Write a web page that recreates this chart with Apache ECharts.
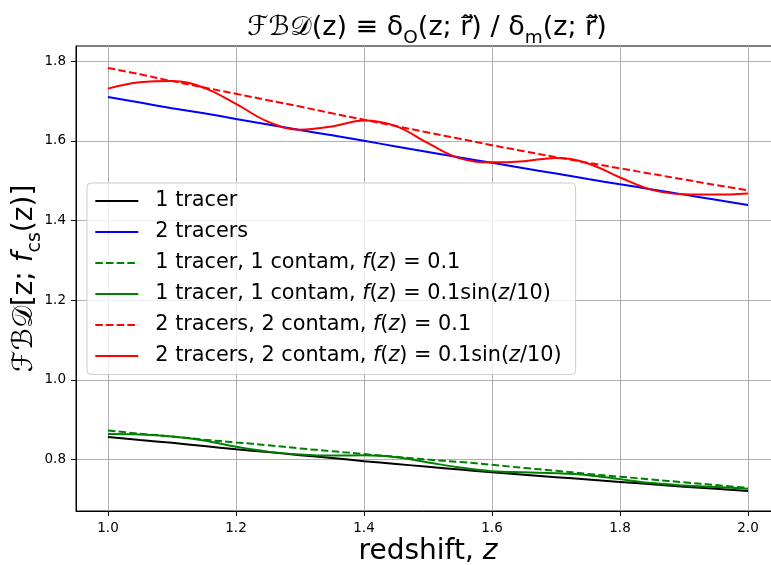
<!DOCTYPE html>
<html>
<head>
<meta charset="utf-8">
<script src="https://cdn.jsdelivr.net/npm/echarts@6/dist/echarts.min.js"></script>
<style>
  html, body { margin: 0; padding: 0; background: #fff; }
  #main { width: 771px; height: 565px; }
</style>
</head>
<body>
<div id="main"></div>
<script>
// redshift grid (x) and tick values
const redshift = [1.00, 1.05, 1.10, 1.15, 1.20, 1.25, 1.30, 1.35, 1.40, 1.45, 1.50,
                  1.55, 1.60, 1.65, 1.70, 1.75, 1.80, 1.85, 1.90, 1.95, 2.00];
const xTicks = [1.0, 1.2, 1.4, 1.6, 1.8, 2.0];
const yTicks = [0.8, 1.0, 1.2, 1.4, 1.6, 1.8];

// values
const oneTracer = [0.857, 0.849, 0.842, 0.834, 0.826, 0.819, 0.811, 0.804, 0.796, 0.789, 0.782,
                   0.775, 0.768, 0.762, 0.756, 0.750, 0.744, 0.738, 0.732, 0.727, 0.721];
const twoTracers = [1.710, 1.696, 1.682, 1.669, 1.655, 1.641, 1.627, 1.614, 1.600, 1.586, 1.572,
                    1.558, 1.545, 1.531, 1.518, 1.504, 1.491, 1.478, 1.465, 1.452, 1.439];
const oneContamConst = [0.873, 0.865, 0.858, 0.850, 0.843, 0.836, 0.828, 0.821, 0.814, 0.807, 0.800,
                        0.794, 0.787, 0.779, 0.772, 0.764, 0.757, 0.750, 0.743, 0.736, 0.729];
const oneContamSin = [0.864, 0.863, 0.858, 0.848, 0.832, 0.820, 0.813, 0.810, 0.811, 0.806, 0.793,
                      0.780, 0.771, 0.768, 0.766, 0.761, 0.751, 0.741, 0.735, 0.731, 0.727];
const twoContamConst = [1.783, 1.767, 1.750, 1.734, 1.718, 1.702, 1.686, 1.669, 1.653, 1.637, 1.621,
                        1.605, 1.589, 1.574, 1.559, 1.545, 1.531, 1.517, 1.503, 1.489, 1.476];
const twoContamSin = [1.731, 1.747, 1.750, 1.733, 1.693, 1.648, 1.628, 1.636, 1.651, 1.637, 1.594,
                      1.556, 1.546, 1.549, 1.557, 1.543, 1.508, 1.477, 1.466, 1.465, 1.468];

const FONT = 'DejaVu Sans';

function pairs(ys) {
  return redshift.map((z, i) => [z, ys[i]]);
}

// legend labels with italic f and z
const legendRich = {
  '1 tracer': '{n|1 tracer}',
  '2 tracers': '{n|2 tracers}',
  '1 tracer, 1 contam, f(z) = 0.1': '{n|1 tracer, 1 contam, }{i|f}{n|(}{i|z}{n|) = 0.1}',
  '1 tracer, 1 contam, f(z) = 0.1sin(z/10)': '{n|1 tracer, 1 contam, }{i|f}{n|(}{i|z}{n|) = 0.1sin(}{i|z}{n|/10)}',
  '2 tracers, 2 contam, f(z) = 0.1': '{n|2 tracers, 2 contam, }{i|f}{n|(}{i|z}{n|) = 0.1}',
  '2 tracers, 2 contam, f(z) = 0.1sin(z/10)': '{n|2 tracers, 2 contam, }{i|f}{n|(}{i|z}{n|) = 0.1sin(}{i|z}{n|/10)}'
};

function line(name, ys, color, dashed) {
  return {
    name: name,
    type: 'line',
    data: pairs(ys),
    symbol: 'none',
    smooth: 0.4,
    lineStyle: { color: color, width: 2, type: dashed ? [7.5, 3.2] : 'solid' },
    itemStyle: { color: color }
  };
}

const chart = echarts.init(document.getElementById('main'), null, { renderer: 'canvas' });
chart.setOption({
  backgroundColor: '#ffffff',
  animation: false,
  title: {
    left: 427,
    top: 8,
    padding: 0,
    textAlign: 'center',
    text: '{c|ℱℬ𝒟}{n|(z) ≡ δ}{s|O}{n|(z; r̃⃗) / δ}{s|m}{n|(z; r̃⃗)}',
    textStyle: {
      fontWeight: 'normal',
      rich: {
        c: { fontFamily: FONT, fontSize: 27, fontWeight: 'normal', lineHeight: 40, color: '#000' },
        n: { fontFamily: FONT, fontSize: 27, fontWeight: 'normal', lineHeight: 40, color: '#000' },
        s: { fontFamily: FONT, fontSize: 18.5, fontWeight: 'normal', lineHeight: 19, color: '#000', verticalAlign: 'bottom' }
      }
    }
  },
  grid: {
    left: 76,
    top: 46,
    right: -9,
    bottom: 54,
    outerBoundsMode: 'none',
    containLabel: false,
    show: true,
    borderColor: '#000',
    borderWidth: 1,
    backgroundColor: 'transparent'
  },
  legend: {
    orient: 'vertical',
    left: 87,
    top: 183,
    itemWidth: 43,
    itemHeight: 14,
    itemGap: 10,
    padding: [7.4, 14, 8, 7.3],
    backgroundColor: 'rgba(255,255,255,0.8)',
    borderColor: '#cccccc',
    borderWidth: 1,
    borderRadius: 4,
    itemStyle: { opacity: 0 },
    formatter: name => legendRich[name],
    textStyle: {
      fontFamily: FONT,
      fontSize: 20.8,
      lineHeight: 20,
      color: '#000',
      padding: [0, 0, 0, 12],
      rich: {
        n: { fontFamily: FONT, fontSize: 20.8, lineHeight: 20, color: '#000' },
        i: { fontFamily: FONT, fontSize: 20.8, lineHeight: 20, color: '#000', fontStyle: 'italic' }
      }
    }
  },
  xAxis: {
    type: 'value',
    min: 0.95,
    max: 2.05,
    name: '{n|redshift, }{i|z}',
    nameLocation: 'middle',
    nameGap: 27,
    nameMoveOverlap: false,
    nameTextStyle: {
      rich: {
        n: { fontFamily: FONT, fontSize: 28, color: '#000' },
        i: { fontFamily: FONT, fontSize: 28, color: '#000', fontStyle: 'italic' }
      }
    },
    axisLine: { show: true, lineStyle: { color: '#000', width: 1 } },
    axisTick: { show: true, length: 5, inside: false, customValues: xTicks, lineStyle: { color: '#000' } },
    axisLabel: {
      customValues: xTicks,
      margin: 10,
      fontFamily: FONT,
      fontSize: 13.5,
      color: '#000',
      formatter: v => v.toFixed(1)
    },
    splitLine: { show: true, lineStyle: { color: '#b0b0b0', width: 1 } }
  },
  yAxis: {
    type: 'value',
    min: 0.671,
    max: 1.838,
    name: '{c|ℱℬ𝒟}{n|[z; }{i|f}{s|cs}{n|(z)]}',
    nameLocation: 'middle',
    nameRotate: 90,
    nameGap: 31,
    nameMoveOverlap: false,
    nameTextStyle: {
      rich: {
        c: { fontFamily: FONT, fontSize: 28, lineHeight: 40, color: '#000' },
        n: { fontFamily: FONT, fontSize: 28, lineHeight: 40, color: '#000' },
        i: { fontFamily: FONT, fontSize: 28, lineHeight: 40, color: '#000', fontStyle: 'italic' },
        s: { fontFamily: FONT, fontSize: 19, lineHeight: 19, color: '#000', verticalAlign: 'bottom' }
      }
    },
    axisLine: { show: true, lineStyle: { color: '#000', width: 1 } },
    axisTick: { show: true, length: 5, inside: false, customValues: yTicks, lineStyle: { color: '#000' } },
    axisLabel: {
      customValues: yTicks,
      margin: 10,
      fontFamily: FONT,
      fontSize: 13.5,
      color: '#000',
      formatter: v => v.toFixed(1)
    },
    splitLine: { show: true, lineStyle: { color: '#b0b0b0', width: 1 } }
  },
  series: [
    line('1 tracer', oneTracer, '#000000', false),
    line('2 tracers', twoTracers, '#0000ff', false),
    line('1 tracer, 1 contam, f(z) = 0.1', oneContamConst, '#008000', true),
    line('1 tracer, 1 contam, f(z) = 0.1sin(z/10)', oneContamSin, '#008000', false),
    line('2 tracers, 2 contam, f(z) = 0.1', twoContamConst, '#ff0000', true),
    line('2 tracers, 2 contam, f(z) = 0.1sin(z/10)', twoContamSin, '#ff0000', false)
  ]
});
</script>
</body>
</html>
